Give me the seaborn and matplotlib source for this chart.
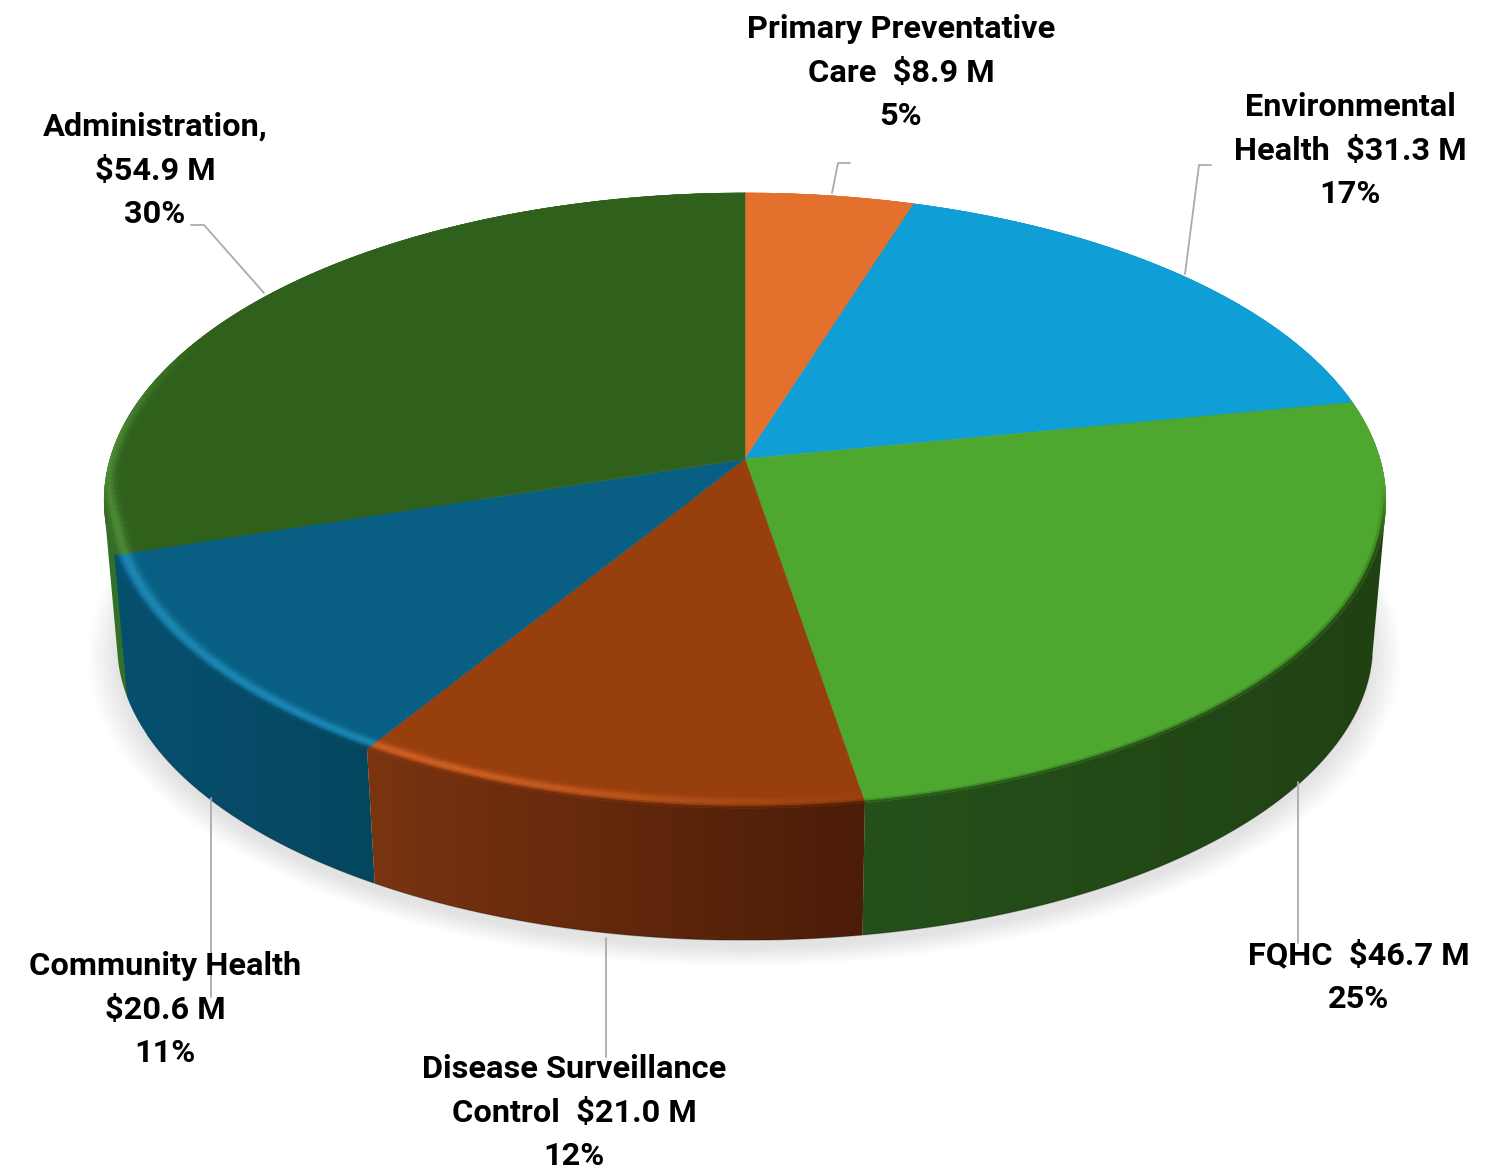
"""Budget pie drawn as a tilted disc, with the slices projected through one perspective."""

import numpy as np
import matplotlib
matplotlib.use("Agg")
import matplotlib.pyplot as plt
from matplotlib.collections import PolyCollection
from matplotlib.patches import Polygon
import seaborn as sns

# data, clockwise from the top
categories = ["Primary Preventative Care", "Environmental Health", "FQHC",
              "Disease Surveillance Control", "Community Health", "Administration"]
amounts = [8.9, 31.3, 46.7, 21.0, 20.6, 54.9]

label_lines = [
    ["Primary Preventative", "Care  $8.9 M", "5%"],
    ["Environmental", "Health  $31.3 M", "17%"],
    ["FQHC  $46.7 M", "25%"],
    ["Disease Surveillance", "Control  $21.0 M", "12%"],
    ["Community Health", "$20.6 M", "11%"],
    ["Administration,", "$54.9 M", "30%"],
]

top_colors = ["#E4702E", "#0F9ED5", "#4EA72E", "#983F0E", "#085F83", "#2F611C"]
# side wall colour at the left and right end of each slice
wall_left = ["#B05520", "#0B7AA5", "#25501A", "#7A3410", "#06506F", "#35702A"]
wall_right = ["#B05520", "#0B7AA5", "#204213", "#4B1C08", "#05465F", "#2F611C"]

# view geometry in pixels (axes run in image pixels)
W, H = 1506, 1171
CX = 745
TILT = 0.135
TOP_DISC = (635, 302, 459)
FLOOR_DISC = (622, 290, 605)


def project(theta, r, disc):
    a, b, cy = disc
    u, v = r * np.sin(theta), r * np.cos(theta)
    d = 1 + TILT * v
    return np.column_stack([CX + a * u / d, cy - b * v / d])


def rgb(c):
    return np.array(matplotlib.colors.to_rgb(c))


def smooth(x):
    x = np.clip(x, 0, 1)
    return x * x * (3 - 2 * x)


def convex_hull(points):
    pts = sorted(map(tuple, points))

    def half(seq):
        out = []
        for p in seq:
            while len(out) > 1 and ((out[-1][0] - out[-2][0]) * (p[1] - out[-2][1])
                                    - (out[-1][1] - out[-2][1]) * (p[0] - out[-2][0])) <= 0:
                out.pop()
            out.append(p)
        return out[:-1]

    return np.array(half(pts) + half(pts[::-1]))


def draw_walls(ax, edges):
    # back walls first, each one a horizontal gradient clipped to its hull;
    # the top disc drawn later hides whatever the hull adds on the inside
    depth = [np.cos((edges[i] + edges[i + 1]) / 2) for i in range(len(amounts))]
    for i in np.argsort(depth)[::-1]:
        th = np.linspace(edges[i], edges[i + 1], 200)
        top, floor = project(th, 1, TOP_DISC), project(th, 1, FLOOR_DISC)
        outline = convex_hull(np.vstack([top, floor]))
        x0, y0 = outline.min(axis=0)
        x1, y1 = outline.max(axis=0)
        f = np.linspace(0, 1, 64)[:, None]
        row = rgb(wall_left[i]) * (1 - f) + rgb(wall_right[i]) * f
        im = ax.imshow(row[None, :, :], extent=(x0, x1, y1, y0), aspect="auto",
                       interpolation="bilinear", zorder=2)
        im.set_clip_path(Polygon(outline, closed=True, transform=ax.transData))


def bevel_polys(edges):
    # soft band along the rim: a light stripe on the left, blending to the wall in front
    rings = np.linspace(0.965, 1.0, 9)
    polys, cols = [], []
    for i in range(len(amounts)):
        n = max(int(np.degrees(edges[i + 1] - edges[i])), 2)
        th = np.linspace(edges[i], edges[i + 1], n + 1)
        xs = project(np.linspace(edges[i], edges[i + 1], 200), 1, TOP_DISC)[:, 0]
        for j in range(n):
            deg = np.degrees(th[j])
            glow = smooth((deg - 165) / 40) * smooth((298 - deg) / 30)
            seen = smooth((deg - 92) / 15) * smooth((268 - deg) / 12)
            x = project(th[j:j + 1], 1, TOP_DISC)[0, 0]
            f = (x - xs.min()) / (xs.max() - xs.min())
            wall = rgb(wall_left[i]) * (1 - f) + rgb(wall_right[i]) * f
            for k in range(len(rings) - 1):
                t = (k + 0.5) / (len(rings) - 1)
                bump = np.exp(-((t - 0.55 - 0.4 * (1 - seen)) / 0.28) ** 2)
                c = rgb(top_colors[i]) * (1 + 0.24 * glow * bump) + 0.07 * glow * bump
                w = smooth((t - 0.72) / 0.28) * seen
                c = np.clip(c * (1 - w) + wall * w, 0, 1)
                a = project(th[j:j + 2], rings[k], TOP_DISC)
                b = project(th[j:j + 2], rings[k + 1], TOP_DISC)
                polys.append([a[0], a[1], b[1], b[0]])
                cols.append(c)
    return polys, cols


def main():
    sns.set_theme(style="white")
    plt.rcParams["font.family"] = ["Roboto", "DejaVu Sans"]

    fig = plt.figure(figsize=(W / 100, H / 100), dpi=100)
    ax = fig.add_axes([0, 0, 1, 1])

    shares = np.array(amounts) / np.sum(amounts)
    edges = 2 * np.pi * np.concatenate([[0], np.cumsum(shares)])
    palette = sns.color_palette(top_colors)

    # soft floor shadow
    ring = np.linspace(0, 2 * np.pi, 361)
    for r in np.linspace(1.045, 1.0, 14):
        pts = project(ring, r, (FLOOR_DISC[0], FLOOR_DISC[1], FLOOR_DISC[2] + 8))
        ax.fill(pts[:, 0], pts[:, 1], color="black", alpha=0.009, lw=0, zorder=1)

    draw_walls(ax, edges)

    # thin dark line under the front of the wall
    front = project(np.radians(np.linspace(100, 245, 200)), 1, FLOOR_DISC)
    ax.plot(front[:, 0], front[:, 1], color="black", alpha=0.25, lw=0.9, zorder=2.5)

    for i, color in enumerate(palette):
        th = np.linspace(edges[i], edges[i + 1], 200)
        arc = project(th, 1, TOP_DISC)
        hub = project(np.array([0.0]), 0, TOP_DISC)
        pts = np.vstack([hub, arc])
        ax.fill(pts[:, 0], pts[:, 1], color=color, lw=0.3, zorder=3)

    polys, cols = bevel_polys(edges)
    ax.add_collection(PolyCollection(polys, facecolors=cols, edgecolors=cols, linewidths=0.3, zorder=4))

    # leader lines
    leaders = [
        ([832, 838, 850], [193, 163, 163]),
        ([1185, 1199, 1211], [274, 165, 165]),
        ([1298, 1298], [782, 943]),
        ([606, 606], [938, 1057]),
        ([211, 211], [798, 997]),
        ([264, 204, 191], [293, 225, 225]),
    ]
    for xs, ys in leaders:
        ax.plot(xs, ys, color="#ABABAB", lw=1.3, zorder=5)

    # label anchors: centre x, first line centre y
    anchors = [(901, 29), (1350, 107), (1359, 955), (574, 1069), (165, 966), (155, 127)]
    for lines, (x, y) in zip(label_lines, anchors):
        for k, line in enumerate(lines):
            ax.text(x, y + k * 43.7, line, ha="center", va="center", fontsize=23.4,
                    fontweight="bold", color="black", zorder=6)

    ax.set_xlim(0, W)
    ax.set_ylim(H, 0)
    ax.axis("off")
    sns.despine(ax=ax, left=True, bottom=True)
    fig.savefig("out.png", dpi=100)


if __name__ == "__main__":
    main()
